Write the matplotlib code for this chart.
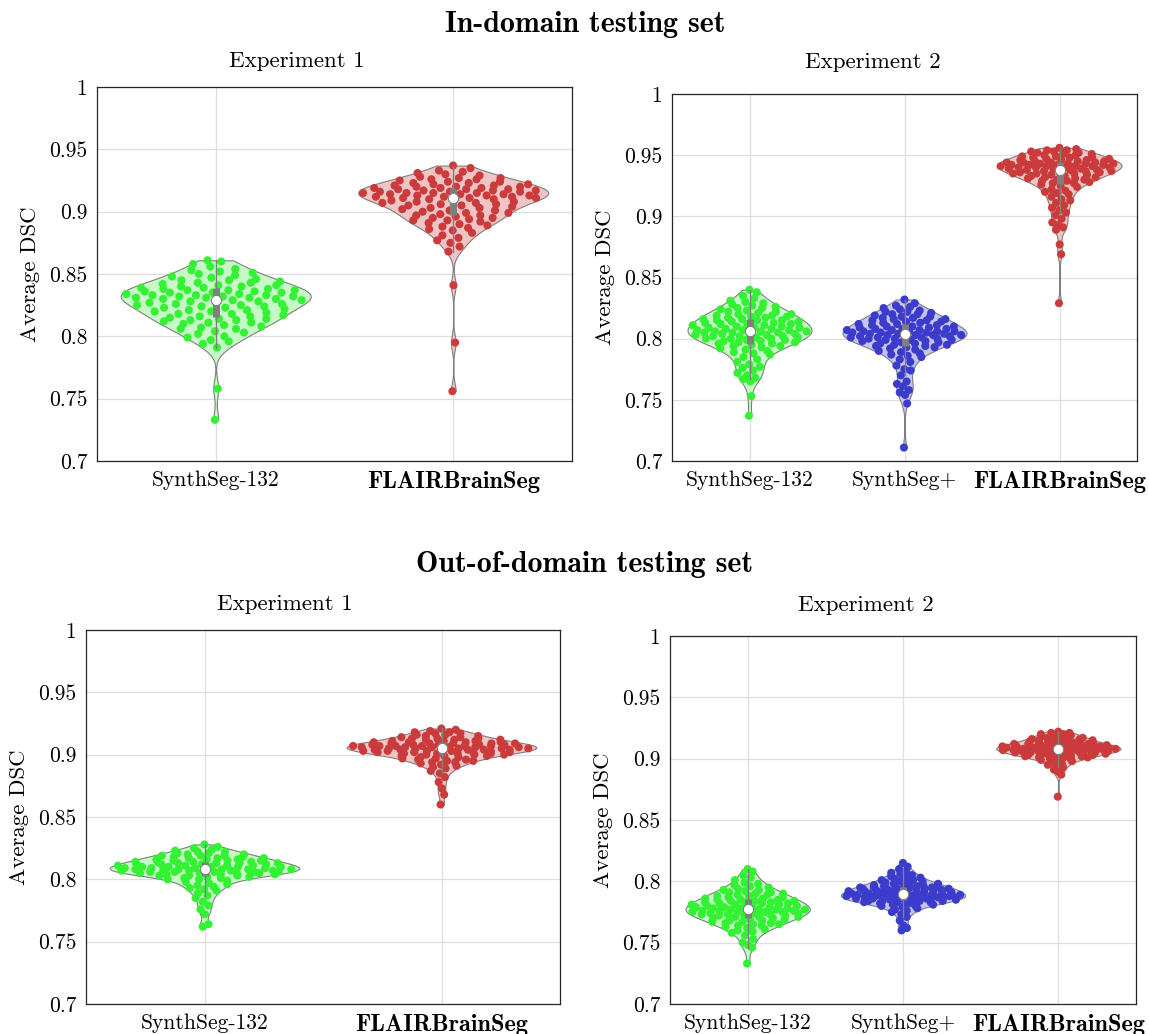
import numpy as np
import matplotlib
matplotlib.use('Agg')
import matplotlib.pyplot as plt

plt.rcParams['font.family'] = 'serif'
plt.rcParams['font.serif'] = ['cmr10']
plt.rcParams['axes.unicode_minus'] = False
plt.rcParams['mathtext.fontset'] = 'cm'

# ---------------- data ----------------
yticks = [0.7, 0.75, 0.8, 0.85, 0.9, 0.95, 1.0]
ytick_labels = ['0.7', '0.75', '0.8', '0.85', '0.9', '0.95', '1']
cats_exp1 = ['SynthSeg-132', 'FLAIRBrainSeg']
cats_exp2 = ['SynthSeg-132', 'SynthSeg+', 'FLAIRBrainSeg']

# In-domain, experiment 1
in_e1_synth132 = [0.733, 0.758, 0.791, 0.794, 0.796, 0.797, 0.799, 0.800, 0.802, 0.803, 0.804, 0.806, 0.806, 0.807, 0.808,
                  0.809, 0.810, 0.811, 0.811, 0.812, 0.813, 0.813, 0.814, 0.814, 0.815,
                  0.816, 0.816, 0.817, 0.818, 0.818, 0.819, 0.820, 0.820, 0.821, 0.821, 0.822, 0.823, 0.823, 0.824, 0.824,
                  0.825, 0.825, 0.826, 0.826, 0.827, 0.827, 0.828, 0.828, 0.829,
                  0.829, 0.830, 0.830, 0.831, 0.831, 0.831, 0.832, 0.832, 0.832, 0.833, 0.833, 0.833, 0.834, 0.834, 0.835,
                  0.835, 0.835, 0.836, 0.836, 0.837, 0.837, 0.837, 0.838, 0.838,
                  0.839, 0.839, 0.840, 0.840, 0.841, 0.841, 0.842, 0.843, 0.843, 0.844, 0.845, 0.845, 0.846, 0.847, 0.848,
                  0.849, 0.850, 0.851, 0.852, 0.853, 0.854, 0.856, 0.858, 0.860, 0.861]
in_e1_flair = [0.756, 0.795, 0.841, 0.868, 0.872, 0.875, 0.877, 0.879, 0.881, 0.883, 0.885, 0.886, 0.887, 0.888, 0.889,
               0.890, 0.891, 0.892, 0.893, 0.893, 0.894, 0.895, 0.895, 0.896, 0.897,
               0.897, 0.898, 0.899, 0.899, 0.900, 0.901, 0.901, 0.902, 0.903, 0.903, 0.904, 0.905, 0.905, 0.906, 0.906,
               0.907, 0.907, 0.908, 0.908, 0.909, 0.909, 0.910, 0.910, 0.911, 0.911,
               0.911, 0.912, 0.912, 0.912, 0.913, 0.913, 0.913, 0.914, 0.914, 0.914, 0.915, 0.915, 0.915, 0.915, 0.916,
               0.916, 0.916, 0.917, 0.917, 0.917, 0.918, 0.918, 0.918, 0.919, 0.919,
               0.919, 0.920, 0.920, 0.920, 0.921, 0.921, 0.922, 0.922, 0.923, 0.923, 0.924, 0.924, 0.925, 0.926, 0.926,
               0.927, 0.927, 0.928, 0.929, 0.930, 0.931, 0.932, 0.933, 0.935, 0.937]

# In-domain, experiment 2
in_e2_synth132 = [0.737, 0.753, 0.765, 0.767, 0.768, 0.770, 0.772, 0.774, 0.776, 0.777, 0.779, 0.781, 0.783, 0.785, 0.787,
                  0.788, 0.789, 0.790, 0.791, 0.792, 0.793, 0.794, 0.794, 0.795, 0.796,
                  0.796, 0.797, 0.797, 0.798, 0.798, 0.799, 0.799, 0.800, 0.800, 0.800, 0.801, 0.801, 0.802, 0.802, 0.802,
                  0.803, 0.803, 0.804, 0.804, 0.804, 0.805, 0.805, 0.805, 0.806, 0.806,
                  0.806, 0.807, 0.807, 0.807, 0.808, 0.808, 0.809, 0.809, 0.809, 0.810, 0.810, 0.811, 0.811, 0.812, 0.812,
                  0.812, 0.813, 0.813, 0.814, 0.814, 0.815, 0.815, 0.815, 0.816, 0.816,
                  0.817, 0.817, 0.818, 0.818, 0.819, 0.819, 0.820, 0.820, 0.821, 0.822, 0.822, 0.823, 0.824, 0.825, 0.825,
                  0.826, 0.827, 0.828, 0.829, 0.830, 0.831, 0.833, 0.835, 0.838, 0.840]
in_e2_synthplus = [0.711, 0.747, 0.754, 0.756, 0.758, 0.761, 0.763, 0.765, 0.770, 0.774, 0.775, 0.778, 0.781, 0.783, 0.785,
                   0.786, 0.787, 0.788, 0.789, 0.790, 0.791, 0.792, 0.793, 0.793, 0.794,
                   0.794, 0.795, 0.795, 0.796, 0.796, 0.797, 0.797, 0.798, 0.798, 0.799, 0.799, 0.799, 0.800, 0.800, 0.800,
                   0.801, 0.801, 0.801, 0.802, 0.802, 0.802, 0.803, 0.803, 0.803, 0.803,
                   0.804, 0.804, 0.804, 0.805, 0.805, 0.805, 0.806, 0.806, 0.806, 0.806, 0.807, 0.807, 0.807, 0.808, 0.808,
                   0.808, 0.809, 0.809, 0.810, 0.810, 0.810, 0.811, 0.811, 0.812, 0.812,
                   0.813, 0.813, 0.814, 0.814, 0.815, 0.815, 0.816, 0.816, 0.817, 0.817, 0.818, 0.818, 0.819, 0.820, 0.820,
                   0.821, 0.822, 0.822, 0.823, 0.824, 0.825, 0.826, 0.827, 0.829, 0.832]
in_e2_flair = [0.829, 0.869, 0.877, 0.889, 0.891, 0.893, 0.895, 0.898, 0.901, 0.903, 0.905, 0.907, 0.909, 0.911, 0.913,
               0.914, 0.916, 0.918, 0.919, 0.920, 0.921, 0.922, 0.924, 0.925, 0.926,
               0.927, 0.927, 0.928, 0.929, 0.929, 0.930, 0.930, 0.931, 0.931, 0.932, 0.932, 0.933, 0.933, 0.934, 0.934,
               0.935, 0.935, 0.935, 0.936, 0.936, 0.936, 0.937, 0.937, 0.937, 0.938,
               0.938, 0.938, 0.939, 0.939, 0.939, 0.940, 0.940, 0.940, 0.940, 0.941, 0.941, 0.941, 0.941, 0.942, 0.942,
               0.942, 0.942, 0.943, 0.943, 0.943, 0.943, 0.944, 0.944, 0.944, 0.944,
               0.945, 0.945, 0.945, 0.946, 0.946, 0.946, 0.947, 0.947, 0.948, 0.948, 0.948, 0.949, 0.949, 0.950, 0.950,
               0.951, 0.951, 0.952, 0.952, 0.953, 0.953, 0.954, 0.954, 0.955, 0.956]

# Out-of-domain, experiment 1
out_e1_synth132 = [0.762, 0.764, 0.772, 0.776, 0.779, 0.782, 0.785, 0.787, 0.789, 0.791, 0.792, 0.793, 0.794, 0.795, 0.796,
                   0.797, 0.798, 0.799, 0.800, 0.800, 0.801, 0.801, 0.802, 0.802, 0.803,
                   0.803, 0.803, 0.804, 0.804, 0.804, 0.805, 0.805, 0.805, 0.805, 0.806, 0.806, 0.806, 0.806, 0.806, 0.807,
                   0.807, 0.807, 0.807, 0.807, 0.808, 0.808, 0.808, 0.808, 0.808, 0.808,
                   0.809, 0.809, 0.809, 0.809, 0.810, 0.810, 0.810, 0.810, 0.810, 0.811, 0.811, 0.811, 0.811, 0.812, 0.812,
                   0.812, 0.812, 0.813, 0.813, 0.813, 0.813, 0.814, 0.814, 0.814, 0.814,
                   0.815, 0.815, 0.815, 0.816, 0.816, 0.816, 0.817, 0.817, 0.817, 0.818, 0.818, 0.819, 0.819, 0.819, 0.820,
                   0.820, 0.821, 0.821, 0.822, 0.822, 0.823, 0.824, 0.825, 0.826, 0.828]
out_e1_flair = [0.860, 0.868, 0.873, 0.878, 0.882, 0.885, 0.887, 0.889, 0.890, 0.891, 0.892, 0.893, 0.894, 0.894, 0.895,
                0.895, 0.896, 0.896, 0.897, 0.897, 0.898, 0.898, 0.899, 0.899, 0.899,
                0.900, 0.900, 0.900, 0.901, 0.901, 0.901, 0.901, 0.902, 0.902, 0.902, 0.902, 0.903, 0.903, 0.903, 0.903,
                0.903, 0.904, 0.904, 0.904, 0.904, 0.904, 0.904, 0.905, 0.905, 0.905,
                0.905, 0.905, 0.906, 0.906, 0.906, 0.906, 0.906, 0.906, 0.907, 0.907, 0.907, 0.907, 0.907, 0.907, 0.908,
                0.908, 0.908, 0.908, 0.908, 0.909, 0.909, 0.909, 0.909, 0.909, 0.910,
                0.910, 0.910, 0.910, 0.911, 0.911, 0.911, 0.912, 0.912, 0.912, 0.913, 0.913, 0.913, 0.914, 0.914, 0.915,
                0.915, 0.916, 0.916, 0.917, 0.917, 0.918, 0.918, 0.919, 0.920, 0.921]

# Out-of-domain, experiment 2
out_e2_synth132 = [0.733, 0.746, 0.748, 0.750, 0.753, 0.756, 0.758, 0.759, 0.760, 0.761, 0.762, 0.763, 0.764, 0.764, 0.765,
                   0.765, 0.766, 0.766, 0.767, 0.767, 0.768, 0.768, 0.769, 0.769, 0.770,
                   0.770, 0.771, 0.771, 0.771, 0.772, 0.772, 0.772, 0.773, 0.773, 0.773, 0.774, 0.774, 0.774, 0.775, 0.775,
                   0.775, 0.775, 0.776, 0.776, 0.776, 0.776, 0.777, 0.777, 0.777, 0.777,
                   0.778, 0.778, 0.778, 0.779, 0.779, 0.779, 0.780, 0.780, 0.780, 0.781, 0.781, 0.781, 0.782, 0.782, 0.782,
                   0.783, 0.783, 0.783, 0.784, 0.784, 0.784, 0.785, 0.785, 0.785, 0.786,
                   0.786, 0.787, 0.787, 0.788, 0.788, 0.789, 0.789, 0.790, 0.790, 0.791, 0.791, 0.792, 0.793, 0.793, 0.794,
                   0.795, 0.796, 0.797, 0.798, 0.799, 0.801, 0.803, 0.805, 0.808, 0.810]
out_e2_synthplus = [0.760, 0.762, 0.764, 0.768, 0.771, 0.773, 0.775, 0.776, 0.777, 0.778, 0.779, 0.780, 0.780, 0.781, 0.781,
                    0.782, 0.782, 0.783, 0.783, 0.783, 0.784, 0.784, 0.784, 0.784, 0.784,
                    0.785, 0.785, 0.785, 0.785, 0.786, 0.786, 0.786, 0.786, 0.786, 0.787, 0.787, 0.787, 0.787, 0.787, 0.787,
                    0.788, 0.788, 0.788, 0.788, 0.788, 0.789, 0.789, 0.789, 0.789, 0.789,
                    0.790, 0.790, 0.790, 0.790, 0.791, 0.791, 0.791, 0.791, 0.792, 0.792, 0.792, 0.792, 0.793, 0.793, 0.793,
                    0.793, 0.794, 0.794, 0.794, 0.794, 0.795, 0.795, 0.795, 0.795, 0.795,
                    0.796, 0.796, 0.796, 0.797, 0.797, 0.797, 0.798, 0.798, 0.799, 0.799, 0.800, 0.800, 0.801, 0.801, 0.802,
                    0.803, 0.803, 0.804, 0.805, 0.806, 0.807, 0.808, 0.810, 0.812, 0.815]
out_e2_flair = [0.869, 0.887, 0.889, 0.891, 0.893, 0.894, 0.895, 0.896, 0.897, 0.898, 0.899, 0.899, 0.900, 0.900, 0.901,
                0.901, 0.901, 0.902, 0.902, 0.902, 0.902, 0.903, 0.903, 0.903, 0.903,
                0.904, 0.904, 0.904, 0.904, 0.905, 0.905, 0.905, 0.905, 0.905, 0.906, 0.906, 0.906, 0.906, 0.906, 0.906,
                0.907, 0.907, 0.907, 0.907, 0.907, 0.907, 0.908, 0.908, 0.908, 0.908,
                0.908, 0.908, 0.909, 0.909, 0.909, 0.909, 0.909, 0.909, 0.909, 0.909, 0.910, 0.910, 0.910, 0.910, 0.910,
                0.910, 0.911, 0.911, 0.911, 0.911, 0.911, 0.912, 0.912, 0.912, 0.912,
                0.913, 0.913, 0.913, 0.913, 0.914, 0.914, 0.914, 0.915, 0.915, 0.915, 0.916, 0.916, 0.916, 0.917, 0.917,
                0.917, 0.918, 0.918, 0.919, 0.919, 0.920, 0.920, 0.921, 0.921, 0.922]

# ---------------- styling ----------------
COL_GREEN = '#33f233'
COL_BLUE = '#3b3bcc'
COL_RED = '#cc3b3b'
FILL_GREEN = '#c6f9c6'
FILL_BLUE = '#c4c4ef'
FILL_RED = '#f0c4c4'
GRAY = '#7f7f7f'

W, H = 1149, 1034
fig = plt.figure(figsize=(W / 100, H / 100), dpi=100)


def px_axes(l, t, r, b):
    return fig.add_axes([l / W, 1 - b / H, (r - l) / W, (b - t) / H])


def kde(data, grid):
    data = np.asarray(data)
    n = len(data)
    med = np.median(data)
    sig = np.median(np.abs(data - med)) / 0.6745
    bw = sig * (4.0 / (3.0 * n)) ** 0.2
    return np.exp(-0.5 * ((grid[:, None] - data[None, :]) / bw) ** 2).sum(1)


def violin(ax, pos, data, col, fill):
    data = np.sort(np.asarray(data, dtype=float))
    grid = np.linspace(data.min(), data.max(), 300)
    d = kde(data, grid)
    w = 0.4 * d / d.max()
    ax.fill_betweenx(grid, pos - w, pos + w, facecolor=fill, edgecolor=GRAY, lw=0.8, zorder=2)
    jw = np.interp(data, grid, w)
    u = np.array([((i * 0.6180339887 + 0.31) % 1.0) * 2 - 1 for i in range(len(data))])
    ax.scatter(pos + 0.97 * u * jw, data, s=34, color=col, edgecolors='none', zorder=3)
    q1, med, q3 = np.percentile(data, [25, 50, 75])
    iqr = q3 - q1
    lo = data[data >= q1 - 1.5 * iqr].min()
    hi = data[data <= q3 + 1.5 * iqr].max()
    ax.plot([pos, pos], [lo, hi], color=GRAY, lw=1.0, zorder=4)
    ax.plot([pos, pos], [q1, q3], color=GRAY, lw=5, solid_capstyle='butt', zorder=5)
    ax.scatter([pos], [med], s=55, facecolor='white', edgecolor=GRAY, lw=0.8, zorder=6)


def style(ax, cats):
    ax.set_ylim(0.7, 1.0)
    ax.set_xlim(0.5, len(cats) + 0.5)
    ax.set_yticks(yticks)
    ax.set_yticklabels(ytick_labels, fontsize=15.5)
    ax.set_xticks(range(1, len(cats) + 1))
    ax.set_xticklabels(cats, fontsize=15.5)
    for lab in ax.get_xticklabels():
        if lab.get_text() == 'FLAIRBrainSeg':
            lab.set_fontfamily('cmb10')
            lab.set_fontsize(17.5)
    ax.tick_params(length=0, pad=7)
    ax.grid(True, color='#dedede', lw=0.9, zorder=0)
    ax.set_axisbelow(True)
    for sp in ax.spines.values():
        sp.set_color('#262626')
        sp.set_linewidth(0.9)
    ax.set_ylabel('Average DSC', fontsize=16.5, labelpad=6)


ax1 = px_axes(97, 87, 572, 461)
violin(ax1, 1, in_e1_synth132, COL_GREEN, FILL_GREEN)
violin(ax1, 2, in_e1_flair, COL_RED, FILL_RED)
style(ax1, cats_exp1)

ax2 = px_axes(672, 94, 1137, 461)
violin(ax2, 1, in_e2_synth132, COL_GREEN, FILL_GREEN)
violin(ax2, 2, in_e2_synthplus, COL_BLUE, FILL_BLUE)
violin(ax2, 3, in_e2_flair, COL_RED, FILL_RED)
style(ax2, cats_exp2)

ax3 = px_axes(86, 630, 560, 1004)
violin(ax3, 1, out_e1_synth132, COL_GREEN, FILL_GREEN)
violin(ax3, 2, out_e1_flair, COL_RED, FILL_RED)
style(ax3, cats_exp1)

ax4 = px_axes(670, 636, 1136, 1004)
violin(ax4, 1, out_e2_synth132, COL_GREEN, FILL_GREEN)
violin(ax4, 2, out_e2_synthplus, COL_BLUE, FILL_BLUE)
violin(ax4, 3, out_e2_flair, COL_RED, FILL_RED)
style(ax4, cats_exp2)


def ftext(x, y, s, **kw):
    fig.text(x / W, 1 - y / H, s, ha='center', va='center', **kw)


ftext(585, 25, 'In-domain testing set', fontsize=21.5, family='cmb10')
ftext(585, 565, 'Out-of-domain testing set', fontsize=21.5, family='cmb10')
ftext(297, 61, 'Experiment 1', fontsize=16.5)
ftext(873, 62, 'Experiment 2', fontsize=16.5)
ftext(285, 604, 'Experiment 1', fontsize=16.5)
ftext(866, 605, 'Experiment 2', fontsize=16.5)

fig.savefig('out.png', dpi=100)
